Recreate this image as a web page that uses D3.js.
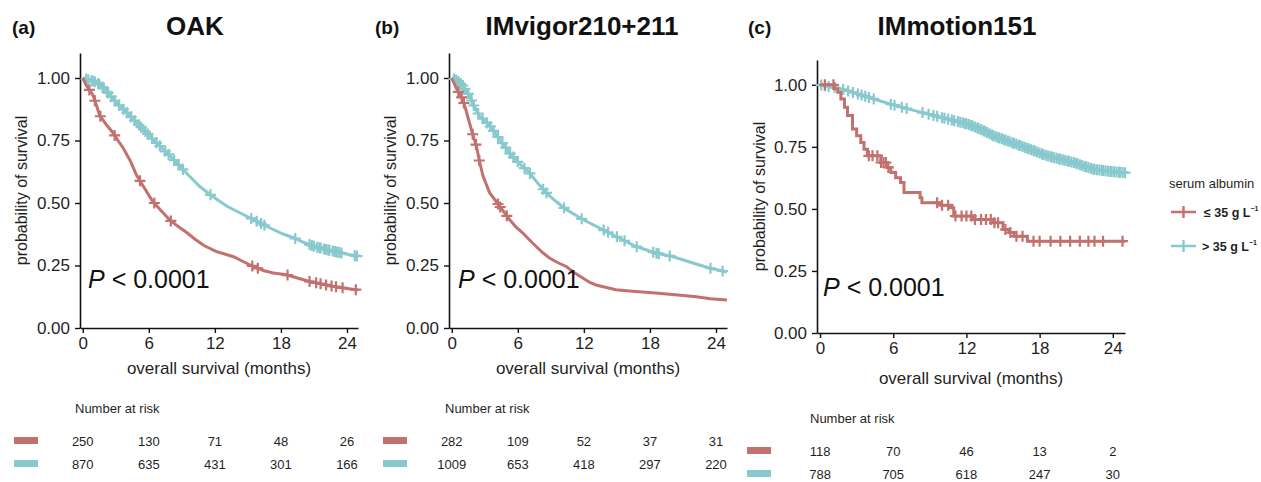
<!DOCTYPE html>
<html>
<head>
<meta charset="utf-8">
<script src="https://cdn.jsdelivr.net/npm/d3@7"></script>
<style>
  body { margin: 0; background: #fff; }
  svg { font-family: "Liberation Sans", Arial, sans-serif; display: block; }
</style>
</head>
<body>
<div id="chart"></div>
<script>
  /**
   * DATA
   * */
  const xTicks = [0, 6, 12, 18, 24];
  const yTicks = [0, 0.25, 0.5, 0.75, 1];
  const groupNames = ["\u2264 35 g L", "> 35 g L"];

  // OAK
  const oakLow = [[0,1],[0.33,0.97],[0.94,0.93],[1.55,0.85],[2.2,0.81],[2.76,0.78],[3.2,0.75],[3.67,0.72],[4.3,0.67],[4.9,0.61],[5.6,0.56],[6.3,0.51],[7.1,0.47],[7.95,0.43],[8.7,0.405],[9.5,0.38],[10.2,0.355],[11,0.33],[12.2,0.305],[13.7,0.285],[14.6,0.265],[15.5,0.246],[16.4,0.23],[17.3,0.22],[18.5,0.213],[19.5,0.2],[20.6,0.186],[21.7,0.176],[22.8,0.166],[24,0.158],[25,0.152]];
  const oakHigh = [[0,1],[0.6,0.992],[1.27,0.983],[1.9,0.96],[2.5,0.93],[3.2,0.895],[4,0.862],[4.7,0.83],[5.5,0.795],[6.2,0.762],[7,0.728],[7.9,0.69],[8.8,0.648],[9.7,0.607],[10.6,0.567],[11.8,0.526],[13.1,0.487],[14.3,0.46],[15.5,0.434],[16.4,0.413],[17.3,0.394],[18.2,0.376],[19.2,0.36],[20.1,0.342],[21,0.327],[21.9,0.316],[22.8,0.307],[23.8,0.297],[25,0.287]];
  const oakLowCensor = [0.6,1.1,1.6,2.9,5.2,6.5,8.0,15.4,15.9,18.6,20.6,21.2,21.6,22.1,22.6,23.0,23.6,24.8];
  const oakHighCensor = [0.3,0.5,0.8,0.9,1.1,1.4,1.5,1.8,1.9,2.2,2.3,2.6,2.9,3.3,3.7,4.0,4.4,4.7,5.1,5.3,5.7,5.9,6.3,6.7,7.0,7.5,7.8,8.3,8.7,9.1,11.6,15.3,15.8,16.2,16.5,19.3,20.6,20.8,21.0,21.3,21.5,21.6,21.9,22.1,22.3,22.4,22.7,22.9,23.1,23.3,23.5,24.7,24.9];
  const oakRiskLow = [250, 130, 71, 48, 26];
  const oakRiskHigh = [870, 635, 431, 301, 166];

  // IMvigor210+211
  const vigLow = [[0,1],[0.45,0.956],[1.0,0.915],[1.3,0.87],[1.6,0.822],[1.9,0.775],[2.24,0.728],[2.5,0.67],[2.84,0.608],[3.44,0.541],[4.35,0.487],[5.25,0.434],[5.8,0.405],[6.46,0.38],[7.0,0.355],[7.67,0.326],[8.3,0.3],[8.88,0.28],[9.6,0.262],[10.4,0.246],[11.1,0.222],[11.9,0.2],[12.5,0.183],[13.1,0.172],[14.9,0.153],[16.7,0.146],[18.5,0.14],[20.3,0.133],[22.2,0.125],[23.5,0.117],[25,0.112]];
  const vigHigh = [[0,1],[0.5,0.99],[1.0,0.97],[1.6,0.93],[2.0,0.89],[2.5,0.85],[3.44,0.81],[4.35,0.755],[5.25,0.70],[6.1,0.66],[7.07,0.62],[7.8,0.58],[8.58,0.541],[9.5,0.505],[10.4,0.474],[11.9,0.434],[13.7,0.394],[15.2,0.36],[16.7,0.327],[18.5,0.3],[20.05,0.286],[21.9,0.26],[23.4,0.24],[25,0.224]];
  const vigLowCensor = [0.6,0.9,1.1,1.9,2.2,2.5,4.2,4.4,5.0];
  const vigHighCensor = [0.2,0.4,0.6,0.8,1.0,1.2,1.5,1.8,2.0,2.4,2.8,3.2,3.5,3.8,4.2,4.6,4.9,5.3,5.6,6.0,6.6,7.1,8.3,8.6,10.2,11.8,13.8,14.2,15.0,15.7,16.8,18.3,18.6,18.8,19.8,23.5,24.6];
  const vigRiskLow = [282, 109, 52, 37, 31];
  const vigRiskHigh = [1009, 653, 418, 297, 220];

  // IMmotion151
  const motLow = [[0,1],[1.17,0.984],[1.45,0.97],[1.71,0.943],[2.0,0.91],[2.25,0.876],[2.66,0.822],[3.0,0.795],[3.34,0.768],[3.6,0.74],[3.89,0.714],[4.98,0.687],[5.5,0.667],[5.8,0.647],[6.2,0.626],[6.6,0.606],[6.88,0.566],[8.2,0.545],[8.35,0.525],[9.9,0.515],[10.7,0.505],[10.96,0.471],[12.6,0.457],[14.2,0.444],[15.0,0.417],[15.5,0.405],[15.9,0.39],[17.0,0.37],[25,0.37]];
  const motHigh = [[0,1],[1.71,0.984],[3.0,0.965],[4.4,0.943],[5.8,0.922],[7.2,0.903],[8.5,0.887],[9.9,0.869],[12.1,0.842],[13.2,0.82],[14.2,0.795],[15.3,0.775],[16.4,0.755],[17.5,0.735],[18.6,0.714],[19.7,0.7],[20.8,0.687],[21.6,0.673],[22.4,0.66],[23.6,0.652],[25,0.646]];
  const motLowCensor = [0.4,1.1,4.0,4.3,4.7,5.0,5.2,5.4,5.6,9.6,10.0,10.5,11.1,11.6,12.0,12.4,12.7,13.2,13.6,14.0,14.3,14.6,15.2,15.6,16.1,16.6,17.5,18.0,18.9,19.7,20.5,21.3,22.0,22.5,23.2,24.8];
  const motHighCensor = [0.1,0.4,0.7,1.2,1.9,2.3,2.7,3.1,3.4,3.7,4.0,4.4,5.8,6.1,6.7,7.1,8.4,8.9,9.3,9.6,10.0,10.2,10.5,10.8,11.0,11.3,11.5,11.7,11.9,12.0,12.2,12.4,12.5,12.7,12.9,13.0,13.2,13.4,13.5,13.7,13.9,14.1,14.2,14.4,14.6,14.7,14.9,15.1,15.2,15.4,15.6,15.8,15.9,16.1,16.3,16.4,16.6,16.8,17.0,17.1,17.3,17.5,17.6,17.8,18.0,18.2,18.3,18.5,18.7,18.9,19.0,19.2,19.4,19.6,19.7,19.9,20.1,20.3,20.4,20.6,20.8,21.0,21.1,21.3,21.5,21.7,21.8,22.0,22.2,22.4,22.5,22.7,22.9,23.1,23.2,23.4,23.6,23.8,23.9,24.1,24.3,24.5,24.6,24.8,25.0];
  const motRiskLow = [118, 70, 46, 13, 2];
  const motRiskHigh = [788, 705, 618, 247, 30];

  /**
   * CONSTANTS AND GLOBALS
   * */
  const width = 1261, height = 482;
  const colLow = "#c2716e", colHigh = "#88c9cd";
  const textCol = "#1f1f1f";

  const panels = [
    { tag: "(a)", title: "OAK", tagX: 12, titleX: 195, left: 80, right: 358, top: 53, bottom: 328,
      low: oakLow, high: oakHigh, lowC: oakLowCensor, highC: oakHighCensor, riskLow: oakRiskLow, riskHigh: oakRiskHigh,
      lowStep: false, pX: 88, pY: 288, yLabX: 21, xLabY: 374, riskTop: 413, swX: 14, nrX: 75 },
    { tag: "(b)", title: "IMvigor210+211", tagX: 375, titleX: 582, left: 449, right: 727, top: 53, bottom: 328,
      low: vigLow, high: vigHigh, lowC: vigLowCensor, highC: vigHighCensor, riskLow: vigRiskLow, riskHigh: vigRiskHigh,
      lowStep: false, pX: 458, pY: 288, yLabX: 390, xLabY: 374, riskTop: 413, swX: 383, nrX: 445 },
    { tag: "(c)", title: "IMmotion151", tagX: 748, titleX: 957, left: 817, right: 1125, top: 60, bottom: 333,
      low: motLow, high: motHigh, lowC: motLowCensor, highC: motHighCensor, riskLow: motRiskLow, riskHigh: motRiskHigh,
      lowStep: true, pX: 823, pY: 296, yLabX: 759, xLabY: 384, riskTop: 423, swX: 747, nrX: 810 }
  ];

  const svg = d3.select("#chart")
    .append("svg")
    .attr("width", width)
    .attr("height", height);

  // value of the curve at time t (same shape as the drawn line)
  function survAt(pts, t, step) {
    for (let i = 1; i < pts.length; i++) {
      if (t <= pts[i][0]) {
        const a = pts[i - 1], b = pts[i];
        if (step) return a[1];
        return a[1] + (b[1] - a[1]) * (t - a[0]) / (b[0] - a[0]);
      }
    }
    return pts[pts.length - 1][1];
  }

  panels.forEach(p => {
    const g = svg.append("g");

    const xScale = d3.scaleLinear().domain([-0.25, 25]).range([p.left, p.right]);
    const yScale = d3.scaleLinear().domain([0, 1.1]).range([p.bottom, p.top]);

    // titles
    g.append("text").attr("x", p.tagX).attr("y", 34)
      .attr("font-size", 19).attr("font-weight", "bold").attr("fill", "#111").text(p.tag);
    g.append("text").attr("x", p.titleX).attr("y", 35).attr("text-anchor", "middle")
      .attr("font-size", 26).attr("font-weight", "bold").attr("fill", "#111").text(p.title);

    // axes
    const yAxis = d3.axisLeft(yScale).tickValues(yTicks).tickFormat(d3.format(".2f"))
      .tickSize(5).tickSizeOuter(0).tickPadding(5);
    const xAxis = d3.axisBottom(xScale).tickValues(xTicks).tickFormat(d3.format("d"))
      .tickSize(5).tickSizeOuter(0).tickPadding(4);

    const ya = g.append("g").attr("transform", `translate(${p.left},0)`).call(yAxis);
    const xa = g.append("g").attr("transform", `translate(0,${p.bottom})`).call(xAxis);
    [ya, xa].forEach(a => {
      a.select(".domain").attr("stroke", "#111").attr("stroke-width", 1.6);
      a.selectAll(".tick line").attr("stroke", "#111").attr("stroke-width", 1.4);
      a.selectAll(".tick text").attr("font-size", 17).attr("fill", textCol)
        .attr("font-family", "Liberation Sans, Arial, sans-serif");
    });

    g.append("text")
      .attr("transform", `translate(${p.yLabX},${(p.top + p.bottom) / 2}) rotate(-90)`)
      .attr("text-anchor", "middle").attr("dy", "0.35em")
      .attr("font-size", 16).attr("fill", textCol).text("probability of survival");
    g.append("text").attr("x", (p.left + p.right) / 2).attr("y", p.xLabY)
      .attr("text-anchor", "middle").attr("font-size", 17).attr("fill", textCol)
      .text("overall survival (months)");

    // curves
    const series = [
      { pts: p.high, cens: p.highC, col: colHigh, step: false },
      { pts: p.low, cens: p.lowC, col: colLow, step: p.lowStep }
    ];
    series.forEach(s => {
      const lineFunc = d3.line()
        .x(d => xScale(d[0]))
        .y(d => yScale(d[1]))
        .curve(s.step ? d3.curveStepAfter : d3.curveLinear);
      g.append("path").datum(s.pts)
        .attr("d", lineFunc)
        .attr("fill", "none").attr("stroke", s.col).attr("stroke-width", 3);
      const h = 5.5;
      g.selectAll(null).data(s.cens).join("path")
        .attr("d", t => {
          const cx = xScale(t), cy = yScale(survAt(s.pts, t, s.step));
          return `M${cx - h},${cy}H${cx + h}M${cx},${cy - h}V${cy + h}`;
        })
        .attr("stroke", s.col).attr("stroke-width", 2.2).attr("fill", "none");
    });

    // p value
    const pt = g.append("text").attr("x", p.pX).attr("y", p.pY)
      .attr("font-size", 25).attr("fill", "#111");
    pt.append("tspan").attr("font-style", "italic").text("P");
    pt.append("tspan").text(" < 0.0001");

    // number at risk table
    g.append("text").attr("x", p.nrX).attr("y", p.riskTop)
      .attr("font-size", 13).attr("fill", textCol).text("Number at risk");
    [[p.riskLow, colLow], [p.riskHigh, colHigh]].forEach(([vals, col], i) => {
      const ry = p.riskTop + 33 + i * 23;
      g.append("rect").attr("x", p.swX).attr("y", ry - 9).attr("width", 24).attr("height", 7)
        .attr("fill", col);
      g.selectAll(null).data(vals).join("text")
        .attr("x", (d, j) => xScale(xTicks[j]))
        .attr("y", ry)
        .attr("text-anchor", "middle")
        .attr("font-size", 13).attr("fill", textCol)
        .text(d => d);
    });
  });

  // legend
  const leg = svg.append("g");
  leg.append("text").attr("x", 1169).attr("y", 188).attr("font-size", 13).attr("fill", textCol)
    .text("serum albumin");
  [colLow, colHigh].forEach((col, i) => {
    const ly = 212 + i * 34;
    leg.append("path").attr("d", `M1171,${ly}H1196M1183.5,${ly - 6}V${ly + 6}`)
      .attr("stroke", col).attr("stroke-width", 2.4).attr("fill", "none");
    const t = leg.append("text").attr("x", i === 0 ? 1204 : 1202).attr("y", ly + 5)
      .attr("font-size", 12.5).attr("font-weight", "bold").attr("fill", textCol);
    t.append("tspan").text(groupNames[i]);
    t.append("tspan").attr("dy", -6).attr("font-size", 7).text("\u22121");
  });
</script>
</body>
</html>
